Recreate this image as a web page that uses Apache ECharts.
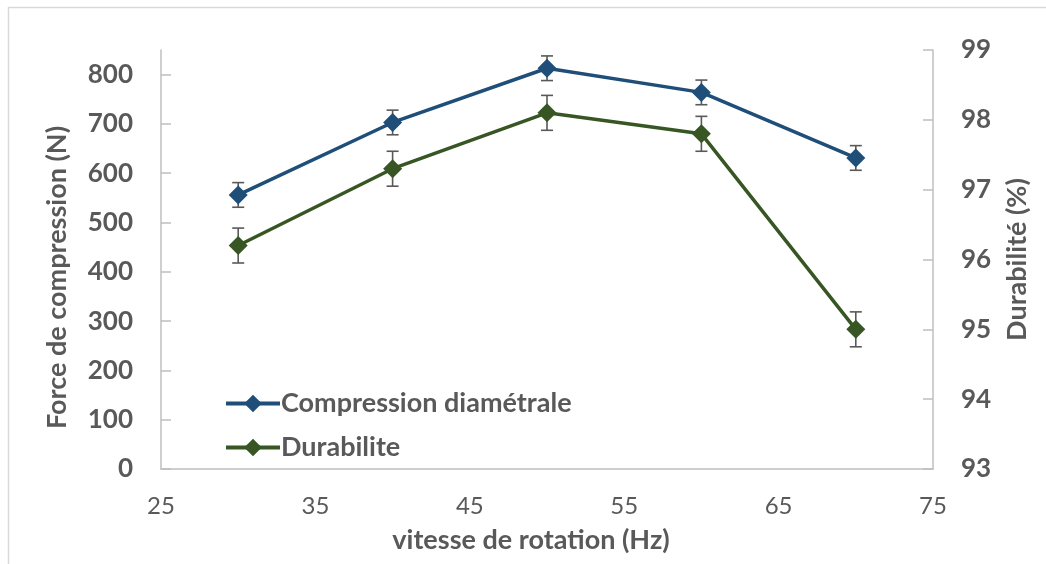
<!DOCTYPE html>
<html>
<head>
<meta charset="utf-8">
<script src="https://cdn.jsdelivr.net/npm/echarts@6/dist/echarts.min.js"></script>
<style>
  html, body { margin: 0; padding: 0; background: #ffffff; }
  #chart { width: 1046px; height: 564px; }
</style>
</head>
<body>
<div id="chart"></div>
<script>
// Rotation speed (Hz) on the x axis
const speeds = [30, 40, 50, 60, 70];
// Diametral compression force (N), left axis
const compression = [556, 703, 813, 764, 631];
const compressionErr = [25, 25, 25, 25, 25];
// Durability (%), right axis
const durability = [96.2, 97.3, 98.1, 97.8, 95.0];
const durabilityErr = [0.25, 0.25, 0.25, 0.25, 0.25];
// Tick values shown on the left axis
const forceTicks = [0, 100, 200, 300, 400, 500, 600, 700, 800];

const FONT = 'Lato';
const GREY = '#595959';
const AXIS = '#BFBFBF';
const BLUE = '#1F4E79';
const GREEN = '#375623';

function errorBars(xs, ys, errs) {
  return xs.map((x, i) => [x, ys[i] - errs[i], ys[i] + errs[i]]);
}

function renderErrorBar(params, api) {
  const x = api.value(0);
  const lo = api.coord([x, api.value(1)]);
  const hi = api.coord([x, api.value(2)]);
  const half = 6;
  const style = { stroke: GREY, lineWidth: 1.6 };
  return {
    type: 'group',
    children: [
      { type: 'line', shape: { x1: lo[0], y1: lo[1], x2: hi[0], y2: hi[1] }, style },
      { type: 'line', shape: { x1: lo[0] - half, y1: lo[1], x2: lo[0] + half, y2: lo[1] }, style },
      { type: 'line', shape: { x1: hi[0] - half, y1: hi[1], x2: hi[0] + half, y2: hi[1] }, style }
    ]
  };
}

const chart = echarts.init(document.getElementById('chart'), null, { renderer: 'canvas' });

chart.setOption({
  backgroundColor: '#ffffff',
  animation: false,
  textStyle: { fontFamily: FONT },
  grid: { left: 161, right: 113, top: 50, bottom: 95, containLabel: false },
  graphic: [
    { type: 'line', shape: { x1: 8, y1: 7.5, x2: 1046, y2: 7.5 }, style: { stroke: '#D9D9D9', lineWidth: 1.5 } },
    { type: 'line', shape: { x1: 8.5, y1: 7, x2: 8.5, y2: 564 }, style: { stroke: '#D9D9D9', lineWidth: 1.5 } }
  ],
  legend: {
    data: ['Compression diamétrale', 'Durabilite'],
    orient: 'vertical',
    left: 219,
    top: 385,
    itemWidth: 54,
    itemHeight: 22,
    itemGap: 17,
    lineStyle: { width: 4 },
    textStyle: { fontFamily: FONT, fontSize: 27, fontWeight: 'bold', color: GREY, padding: [0, 0, 0, -4] }
  },
  xAxis: {
    type: 'value',
    min: 25,
    max: 75,
    interval: 10,
    name: 'vitesse de rotation (Hz)',
    nameLocation: 'middle',
    nameGap: 58,
    nameTextStyle: { fontFamily: FONT, fontSize: 27, fontWeight: 'bold', color: GREY, padding: [0, 32, 0, 0] },
    axisLine: { show: true, lineStyle: { color: AXIS, width: 1.5 } },
    axisTick: { show: false },
    splitLine: { show: false },
    axisLabel: { fontFamily: FONT, fontSize: 24, color: GREY, margin: 25 }
  },
  yAxis: [
    {
      type: 'value',
      min: 0,
      max: 850,
      interval: 100,
      position: 'left',
      name: 'Force de compression (N)',
      nameLocation: 'middle',
      nameGap: 90,
      nameRotate: 90,
      nameTextStyle: { fontFamily: FONT, fontSize: 27, fontWeight: 'bold', color: GREY, padding: [0, 36, 0, 0] },
      axisLine: { show: true, lineStyle: { color: AXIS, width: 1.5 } },
      axisTick: { show: true, inside: true, length: 10, customValues: forceTicks, lineStyle: { color: AXIS, width: 1.5 } },
      splitLine: { show: false },
      axisLabel: { customValues: forceTicks, fontFamily: FONT, fontSize: 26, fontWeight: 'bold', color: GREY, margin: 28 }
    },
    {
      type: 'value',
      min: 93,
      max: 99,
      interval: 1,
      position: 'right',
      name: 'Durabilité (%)',
      nameLocation: 'middle',
      nameGap: 71,
      nameRotate: 90,
      nameTextStyle: { fontFamily: FONT, fontSize: 27, fontWeight: 'bold', color: GREY },
      axisLine: { show: true, lineStyle: { color: AXIS, width: 1.5 } },
      axisTick: { show: true, inside: true, length: 10, lineStyle: { color: AXIS, width: 1.5 } },
      splitLine: { show: false },
      axisLabel: { fontFamily: FONT, fontSize: 26, fontWeight: 'bold', color: GREY, margin: 28 }
    }
  ],
  series: [
    {
      type: 'custom',
      yAxisIndex: 0,
      z: 1,
      silent: true,
      renderItem: renderErrorBar,
      encode: { x: 0, y: [1, 2] },
      data: errorBars(speeds, compression, compressionErr)
    },
    {
      type: 'custom',
      yAxisIndex: 1,
      z: 1,
      silent: true,
      renderItem: renderErrorBar,
      encode: { x: 0, y: [1, 2] },
      data: errorBars(speeds, durability, durabilityErr)
    },
    {
      name: 'Compression diamétrale',
      type: 'line',
      yAxisIndex: 0,
      z: 3,
      symbol: 'diamond',
      symbolSize: 19,
      lineStyle: { color: BLUE, width: 3.5 },
      itemStyle: { color: BLUE },
      data: speeds.map((x, i) => [x, compression[i]])
    },
    {
      name: 'Durabilite',
      type: 'line',
      yAxisIndex: 1,
      z: 3,
      symbol: 'diamond',
      symbolSize: 19,
      lineStyle: { color: GREEN, width: 3.5 },
      itemStyle: { color: GREEN },
      data: speeds.map((x, i) => [x, durability[i]])
    }
  ]
});
</script>
</body>
</html>
